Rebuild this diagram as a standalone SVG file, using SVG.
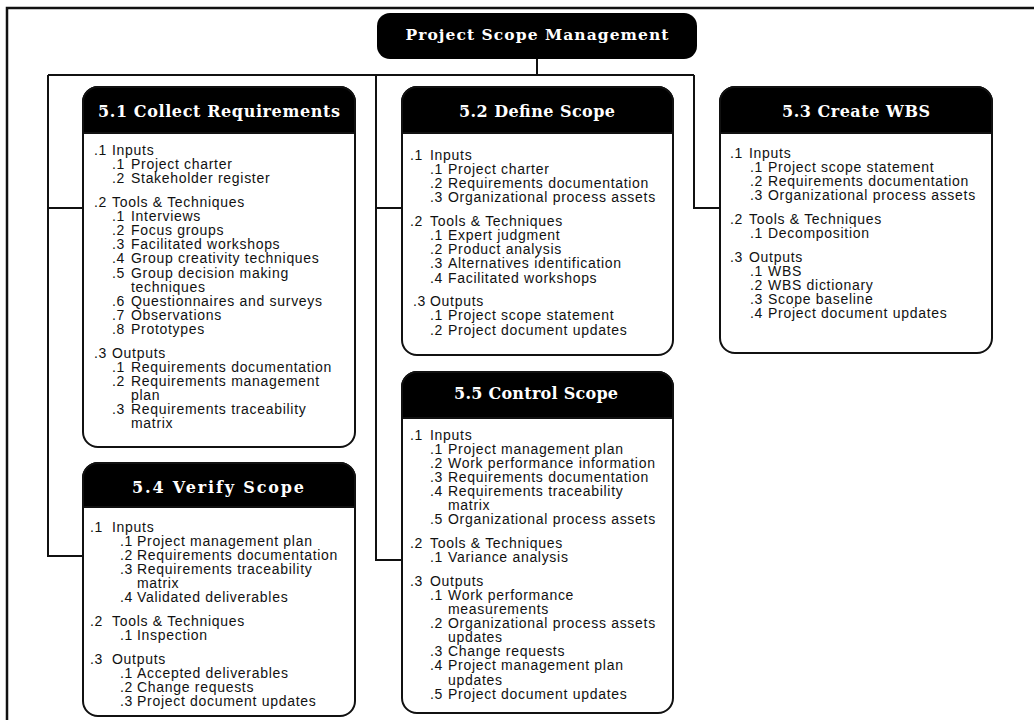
<svg xmlns="http://www.w3.org/2000/svg" width="1034" height="720" viewBox="0 0 1034 720">
<style>
.frame{fill:none;stroke:#111;stroke-width:2.5}
.con{fill:none;stroke:#111;stroke-width:2}
.box{fill:#fff;stroke:#111;stroke-width:2}
.hd{fill:#000;stroke:#111;stroke-width:2}
.ht{font-family:"DejaVu Serif",serif;font-weight:bold;font-size:16px;fill:#fff;text-anchor:middle}
.t{font-family:"Liberation Sans",Arial,sans-serif;font-size:14px;letter-spacing:0.7px;fill:#111}
</style>
<rect width="1034" height="720" fill="#fff"/>
<rect class="frame" x="7" y="8" width="1040" height="730"/>

<g id="connectors">
<path class="con" d="M537,59 V75"/>
<path class="con" d="M48,75 H694"/>
<path class="con" d="M48,75 V556 H83"/>
<path class="con" d="M48,208 H83"/>
<path class="con" d="M376,75 V560 H402"/>
<path class="con" d="M376,208 H402"/>
<path class="con" d="M694,75 V208 H720"/>
</g>

<g id="root">
<rect x="377" y="13" width="320" height="46" rx="13" fill="#000"/>
<text class="ht" x="537" y="40" style="font-size:15.5px" textLength="263">Project Scope Management</text>
</g>

<g id="n51">
<rect class="box" x="83" y="87" width="272" height="360" rx="15"/>
<path class="hd" d="M83,133 V102 A15,15 0 0 1 98,87 H340 A15,15 0 0 1 355,102 V133 Z"/>
<text class="ht" x="219" y="117" textLength="242">5.1 Collect Requirements</text>
<g class="t">
<text y="155"><tspan x="94">.1</tspan><tspan x="112">Inputs</tspan></text>
<text y="169.1"><tspan x="112">.1</tspan><tspan x="131">Project charter</tspan></text>
<text y="183.2"><tspan x="112">.2</tspan><tspan x="131">Stakeholder register</tspan></text>
<text y="207"><tspan x="94">.2</tspan><tspan x="112">Tools &amp; Techniques</tspan></text>
<text y="221.1"><tspan x="112">.1</tspan><tspan x="131">Interviews</tspan></text>
<text y="235.2"><tspan x="112">.2</tspan><tspan x="131">Focus groups</tspan></text>
<text y="249.3"><tspan x="112">.3</tspan><tspan x="131">Facilitated workshops</tspan></text>
<text y="263.4"><tspan x="112">.4</tspan><tspan x="131">Group creativity techniques</tspan></text>
<text y="277.5"><tspan x="112">.5</tspan><tspan x="131">Group decision making</tspan></text>
<text y="291.6" x="131">techniques</text>
<text y="305.7"><tspan x="112">.6</tspan><tspan x="131">Questionnaires and surveys</tspan></text>
<text y="319.8"><tspan x="112">.7</tspan><tspan x="131">Observations</tspan></text>
<text y="333.9"><tspan x="112">.8</tspan><tspan x="131">Prototypes</tspan></text>
<text y="357.7"><tspan x="94">.3</tspan><tspan x="112">Outputs</tspan></text>
<text y="371.8"><tspan x="112">.1</tspan><tspan x="131">Requirements documentation</tspan></text>
<text y="385.9"><tspan x="112">.2</tspan><tspan x="131">Requirements management</tspan></text>
<text y="400" x="131">plan</text>
<text y="414.1"><tspan x="112">.3</tspan><tspan x="131">Requirements traceability</tspan></text>
<text y="428.2" x="131">matrix</text>
</g>
</g>

<g id="n52">
<rect class="box" x="402" y="87" width="271" height="268" rx="15"/>
<path class="hd" d="M402,133 V102 A15,15 0 0 1 417,87 H658 A15,15 0 0 1 673,102 V133 Z"/>
<text class="ht" x="537" y="117" textLength="156">5.2 Define Scope</text>
<g class="t">
<text y="160"><tspan x="410">.1</tspan><tspan x="430">Inputs</tspan></text>
<text y="174.1"><tspan x="430">.1</tspan><tspan x="448">Project charter</tspan></text>
<text y="188.2"><tspan x="430">.2</tspan><tspan x="448">Requirements documentation</tspan></text>
<text y="202.3"><tspan x="430">.3</tspan><tspan x="448">Organizational process assets</tspan></text>
<text y="226.1"><tspan x="410">.2</tspan><tspan x="430">Tools &amp; Techniques</tspan></text>
<text y="240.2"><tspan x="430">.1</tspan><tspan x="448">Expert judgment</tspan></text>
<text y="254.3"><tspan x="430">.2</tspan><tspan x="448">Product analysis</tspan></text>
<text y="268.4"><tspan x="430">.3</tspan><tspan x="448">Alternatives identification</tspan></text>
<text y="282.5"><tspan x="430">.4</tspan><tspan x="448">Facilitated workshops</tspan></text>
<text y="306.3"><tspan x="413">.3</tspan><tspan x="430">Outputs</tspan></text>
<text y="320.4"><tspan x="430">.1</tspan><tspan x="448">Project scope statement</tspan></text>
<text y="334.5"><tspan x="430">.2</tspan><tspan x="448">Project document updates</tspan></text>
</g>
</g>

<g id="n53">
<rect class="box" x="720" y="87" width="272" height="266" rx="15"/>
<path class="hd" d="M720,133 V102 A15,15 0 0 1 735,87 H977 A15,15 0 0 1 992,102 V133 Z"/>
<text class="ht" x="856" y="117" textLength="148">5.3 Create WBS</text>
<g class="t">
<text y="157.5"><tspan x="730">.1</tspan><tspan x="749">Inputs</tspan></text>
<text y="171.6"><tspan x="750">.1</tspan><tspan x="768">Project scope statement</tspan></text>
<text y="185.7"><tspan x="750">.2</tspan><tspan x="768">Requirements documentation</tspan></text>
<text y="199.8"><tspan x="750">.3</tspan><tspan x="768">Organizational process assets</tspan></text>
<text y="223.6"><tspan x="730">.2</tspan><tspan x="749">Tools &amp; Techniques</tspan></text>
<text y="237.7"><tspan x="750">.1</tspan><tspan x="768">Decomposition</tspan></text>
<text y="261.5"><tspan x="730">.3</tspan><tspan x="749">Outputs</tspan></text>
<text y="275.6"><tspan x="750">.1</tspan><tspan x="768">WBS</tspan></text>
<text y="289.7"><tspan x="750">.2</tspan><tspan x="768">WBS dictionary</tspan></text>
<text y="303.8"><tspan x="750">.3</tspan><tspan x="768">Scope baseline</tspan></text>
<text y="317.9"><tspan x="750">.4</tspan><tspan x="768">Project document updates</tspan></text>
</g>
</g>

<g id="n54">
<rect class="box" x="83" y="463" width="272" height="253" rx="15"/>
<path class="hd" d="M83,507 V478 A15,15 0 0 1 98,463 H340 A15,15 0 0 1 355,478 V507 Z"/>
<text class="ht" x="218" y="493" textLength="172">5.4 Verify Scope</text>
<g class="t">
<text y="531.5"><tspan x="90">.1</tspan><tspan x="112">Inputs</tspan></text>
<text y="545.6"><tspan x="120">.1</tspan><tspan x="137">Project management plan</tspan></text>
<text y="559.7"><tspan x="120">.2</tspan><tspan x="137">Requirements documentation</tspan></text>
<text y="573.8"><tspan x="120">.3</tspan><tspan x="137">Requirements traceability</tspan></text>
<text y="587.9" x="137">matrix</text>
<text y="602"><tspan x="120">.4</tspan><tspan x="137">Validated deliverables</tspan></text>
<text y="625.8"><tspan x="90">.2</tspan><tspan x="112">Tools &amp; Techniques</tspan></text>
<text y="639.9"><tspan x="120">.1</tspan><tspan x="137">Inspection</tspan></text>
<text y="663.7"><tspan x="90">.3</tspan><tspan x="112">Outputs</tspan></text>
<text y="677.8"><tspan x="120">.1</tspan><tspan x="137">Accepted deliverables</tspan></text>
<text y="691.9"><tspan x="120">.2</tspan><tspan x="137">Change requests</tspan></text>
<text y="706"><tspan x="120">.3</tspan><tspan x="137">Project document updates</tspan></text>
</g>
</g>

<g id="n55">
<rect class="box" x="402" y="372" width="271" height="341" rx="15"/>
<path class="hd" d="M402,418 V387 A15,15 0 0 1 417,372 H658 A15,15 0 0 1 673,387 V418 Z"/>
<text class="ht" x="536" y="399" textLength="164">5.5 Control Scope</text>
<g class="t">
<text y="439.5"><tspan x="410">.1</tspan><tspan x="430">Inputs</tspan></text>
<text y="453.6"><tspan x="430">.1</tspan><tspan x="448">Project management plan</tspan></text>
<text y="467.7"><tspan x="430">.2</tspan><tspan x="448">Work performance information</tspan></text>
<text y="481.8"><tspan x="430">.3</tspan><tspan x="448">Requirements documentation</tspan></text>
<text y="495.9"><tspan x="430">.4</tspan><tspan x="448">Requirements traceability</tspan></text>
<text y="510" x="448">matrix</text>
<text y="524.1"><tspan x="430">.5</tspan><tspan x="448">Organizational process assets</tspan></text>
<text y="547.9"><tspan x="410">.2</tspan><tspan x="430">Tools &amp; Techniques</tspan></text>
<text y="562"><tspan x="430">.1</tspan><tspan x="448">Variance analysis</tspan></text>
<text y="585.8"><tspan x="410">.3</tspan><tspan x="430">Outputs</tspan></text>
<text y="599.9"><tspan x="430">.1</tspan><tspan x="448">Work performance</tspan></text>
<text y="614" x="448">measurements</text>
<text y="628.1"><tspan x="430">.2</tspan><tspan x="448">Organizational process assets</tspan></text>
<text y="642.2" x="448">updates</text>
<text y="656.3"><tspan x="430">.3</tspan><tspan x="448">Change requests</tspan></text>
<text y="670.4"><tspan x="430">.4</tspan><tspan x="448">Project management plan</tspan></text>
<text y="684.5" x="448">updates</text>
<text y="698.6"><tspan x="430">.5</tspan><tspan x="448">Project document updates</tspan></text>
</g>
</g>
</svg>
